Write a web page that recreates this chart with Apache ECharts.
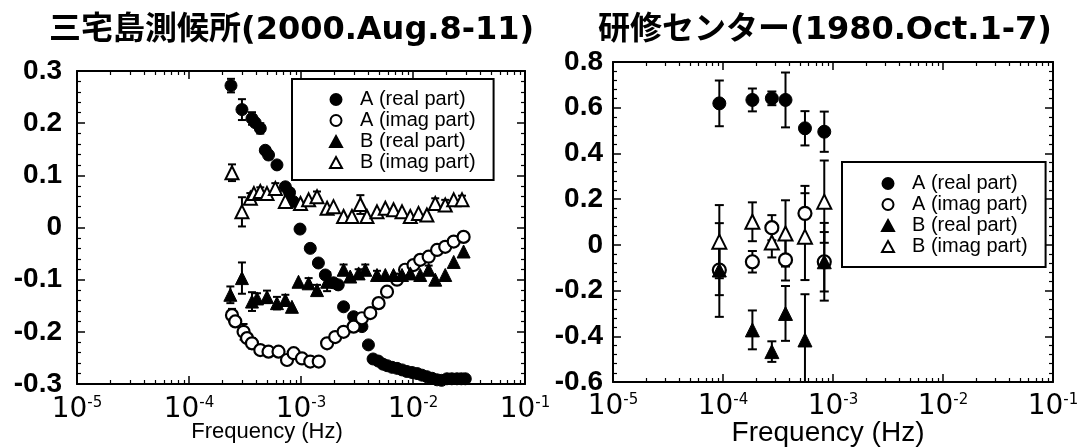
<!DOCTYPE html>
<html>
<head>
<meta charset="utf-8">
<script src="https://cdn.jsdelivr.net/npm/echarts@6/dist/echarts.min.js"></script>
<style>
html, body { margin: 0; padding: 0; background: #fff; }
#chart { width: 1084px; height: 447px; }
</style>
</head>
<body>
<div id="chart"></div>
<script>
// ---- left panel: 三宅島測候所 (2000.Aug.8-11), points are [frequency (Hz), value]
var miyakeAReal = [
    [2.37e-4, 0.272], [2.97e-4, 0.226], [3.65e-4, 0.209], [3.9e-4, 0.201], [4.33e-4, 0.19],
    [4.8e-4, 0.148], [5.13e-4, 0.139], [6.1e-4, 0.12], [7.25e-4, 0.078], [7.9e-4, 0.067],
    [8.5e-4, 0.05], [9.8e-4, -0.003], [1.21e-3, -0.04], [1.43e-3, -0.068], [1.65e-3, -0.091],
    [1.95e-3, -0.106], [2.15e-3, -0.11], [2.4e-3, -0.152], [2.95e-3, -0.171], [3.5e-3, -0.19],
    [4.0e-3, -0.225], [4.4e-3, -0.252], [4.9e-3, -0.256], [5.4e-3, -0.262], [5.9e-3, -0.265],
    [6.5e-3, -0.268], [7.2e-3, -0.27], [8.0e-3, -0.273], [8.8e-3, -0.276], [9.8e-3, -0.278],
    [1.09e-2, -0.28], [1.2e-2, -0.283], [1.33e-2, -0.286], [1.48e-2, -0.289], [1.64e-2, -0.292],
    [1.8e-2, -0.293], [2.01e-2, -0.29], [2.22e-2, -0.29], [2.47e-2, -0.29], [2.7e-2, -0.29],
    [2.93e-2, -0.29]
];
var miyakeAImag = [
    [2.42e-4, -0.168], [2.59e-4, -0.18], [3.07e-4, -0.2], [3.3e-4, -0.212], [3.65e-4, -0.222],
    [4.33e-4, -0.235], [5.13e-4, -0.238], [6.3e-4, -0.238], [7.5e-4, -0.254], [8.6e-4, -0.241],
    [1.02e-3, -0.251], [1.21e-3, -0.257], [1.44e-3, -0.257], [1.71e-3, -0.222], [2.02e-3, -0.21],
    [2.4e-3, -0.2], [2.95e-3, -0.19], [3.5e-3, -0.174], [4.16e-3, -0.164], [4.93e-3, -0.145],
    [5.86e-3, -0.123], [7.2e-3, -0.1], [8.5e-3, -0.081], [1.01e-2, -0.072], [1.16e-2, -0.062],
    [1.38e-2, -0.056], [1.64e-2, -0.043], [1.94e-2, -0.037], [2.31e-2, -0.027], [2.83e-2, -0.018]
];
var miyakeBReal = [
    [2.34e-4, -0.129], [2.97e-4, -0.097], [3.65e-4, -0.142], [4.05e-4, -0.136], [4.97e-4, -0.133],
    [6.1e-4, -0.145], [7.25e-4, -0.139], [8.3e-4, -0.152], [9.5e-4, -0.104], [1.17e-3, -0.107],
    [1.39e-3, -0.12], [1.71e-3, -0.104], [2.4e-3, -0.081], [2.75e-3, -0.094], [3.27e-3, -0.088],
    [3.75e-3, -0.081], [4.77e-3, -0.091], [5.66e-3, -0.091], [6.7e-3, -0.091], [7.98e-3, -0.091],
    [9.46e-3, -0.088], [1.16e-2, -0.091], [1.38e-2, -0.081], [1.58e-2, -0.1], [1.94e-2, -0.091],
    [2.31e-2, -0.066], [2.83e-2, -0.046]
];
var miyakeBImag = [
    [2.42e-4, 0.105], [2.97e-4, 0.03], [3.53e-4, 0.056], [3.8e-4, 0.065], [4.33e-4, 0.069],
    [4.97e-4, 0.065], [5.9e-4, 0.075], [7.25e-4, 0.05], [9.9e-4, 0.046], [1.17e-3, 0.053],
    [1.39e-3, 0.059], [1.71e-3, 0.037], [1.95e-3, 0.04], [2.4e-3, 0.021], [2.85e-3, 0.021],
    [3.39e-3, 0.044], [3.88e-3, 0.021], [4.77e-3, 0.03], [5.66e-3, 0.037], [6.7e-3, 0.034],
    [7.98e-3, 0.03], [9.46e-3, 0.021], [1.12e-2, 0.027], [1.33e-2, 0.024], [1.58e-2, 0.046],
    [1.94e-2, 0.043], [2.31e-2, 0.053], [2.74e-2, 0.053]
];
// error bars [frequency, value, half length]
var miyakeErr = [
    [2.37e-4, 0.272, 0.013], [2.97e-4, 0.226, 0.02], [3.65e-4, 0.209, 0.012], [4.33e-4, 0.19, 0.01],
    [5.13e-4, 0.139, 0.008],
    [2.42e-4, -0.168, 0.012], [3.07e-4, -0.2, 0.015], [3.65e-4, -0.222, 0.01],
    [2.34e-4, -0.129, 0.016], [2.97e-4, -0.097, 0.03], [3.65e-4, -0.142, 0.018], [4.05e-4, -0.136, 0.01],
    [4.97e-4, -0.133, 0.012], [6.1e-4, -0.145, 0.012], [7.25e-4, -0.139, 0.01], [1.17e-3, -0.107, 0.01],
    [1.39e-3, -0.12, 0.01], [1.71e-3, -0.104, 0.018], [2.4e-3, -0.081, 0.01], [3.27e-3, -0.088, 0.008],
    [3.75e-3, -0.081, 0.01], [4.77e-3, -0.091, 0.008], [1.38e-2, -0.081, 0.008],
    [2.42e-4, 0.105, 0.016], [2.97e-4, 0.03, 0.028], [3.53e-4, 0.056, 0.01], [4.33e-4, 0.069, 0.008],
    [5.9e-4, 0.075, 0.01], [1.39e-3, 0.059, 0.01], [3.39e-3, 0.044, 0.018], [1.58e-2, 0.046, 0.01],
    [1.94e-2, 0.043, 0.01], [2.74e-2, 0.053, 0.008]
];

// ---- right panel: 研修センター (1980.Oct.1-7)
var kenshuFreq = [9.26e-5, 1.85e-4, 2.78e-4, 3.7e-4, 5.56e-4, 8.33e-4];
var kenshuAReal = [0.619, 0.634, 0.641, 0.634, 0.51, 0.495];
var kenshuARealErr = [0.1, 0.05, 0.03, 0.12, 0.075, 0.088];
var kenshuAImag = [-0.11, -0.074, 0.075, -0.066, 0.138, -0.074];
var kenshuAImagErr = [0.11, 0.047, 0.055, 0.09, 0.12, 0.13];
var kenshuBReal = [-0.11, -0.372, -0.467, -0.3, -0.416, -0.074];
var kenshuBRealErr = [0.205, 0.085, 0.045, 0.12, 0.2, 0.17];
var kenshuBImag = [0.014, 0.101, 0.01, 0.05, 0.036, 0.189];
var kenshuBImagErr = [0.16, 0.085, 0.065, 0.145, 0.19, 0.18];

var seriesNames = ['A (real part)', 'A (imag part)', 'B (real part)', 'B (imag part)'];
var titles = ['三宅島測候所(2000.Aug.8-11)', '研修センター(1980.Oct.1-7)'];
var decades = [-5, -4, -3, -2];

// minor log ticks (2..9 per decade), in log10 space for the helper axes
var minorLogTicks = [];
decades.forEach(function (d) {
    for (var k = 2; k <= 9; k++) minorLogTicks.push(d + Math.log10(k));
});

var SANS = "'Liberation Sans', Arial, sans-serif";
var DEJA = "'DejaVu Sans', sans-serif";
var TITLE_FONT = "'DejaVu Sans', 'Noto Sans CJK JP', sans-serif";
var BLACK = '#000';

function pairs(freq, vals) {
    return freq.map(function (f, i) { return [f, vals[i]]; });
}
function errRows(rows) {
    return rows.map(function (r) { return [r[0], r[1] - r[2], r[1] + r[2]]; });
}
function errCols(freq, vals, errs) {
    return freq.map(function (f, i) { return [f, vals[i] - errs[i], vals[i] + errs[i]]; });
}

function xLog(grid, pos, labels, margin, name, nameSize, nameShift) {
    return {
        type: 'log', logBase: 10, gridIndex: grid, position: pos, min: 1e-5, max: 1e-1,
        axisLine: { show: true, onZero: false, lineStyle: { color: BLACK, width: 2 } },
        axisTick: { show: true, inside: true, length: 8, lineStyle: { color: BLACK, width: 1.5 } },
        axisLabel: {
            show: labels, margin: margin, showMinLabel: true, showMaxLabel: true,
            formatter: function (v) { return '{b|10}{s|' + Math.round(Math.log10(v)) + '}'; },
            rich: {
                b: { fontFamily: DEJA, fontSize: 28, lineHeight: 28, color: BLACK },
                s: { fontFamily: DEJA, fontSize: 15, lineHeight: 15, verticalAlign: 'top', color: BLACK }
            }
        },
        splitLine: { show: false },
        name: name || '', nameLocation: 'middle', nameGap: 37, nameMoveOverlap: false,
        nameTextStyle: { fontFamily: SANS, fontSize: nameSize || 20, color: BLACK, padding: [0, nameShift || 0, 0, 0] }
    };
}

function xMinor(grid, pos) {
    return {
        type: 'value', gridIndex: grid, position: pos, min: -5, max: -1,
        axisLine: { show: false, onZero: false },
        axisTick: { show: true, inside: true, length: 4, customValues: minorLogTicks, lineStyle: { color: BLACK, width: 1.2 } },
        axisLabel: { show: false },
        splitLine: { show: false }
    };
}

function yAx(grid, pos, min, max, step, labels, margin) {
    return {
        type: 'value', gridIndex: grid, position: pos, min: min, max: max, interval: step,
        axisLine: { show: true, onZero: false, lineStyle: { color: BLACK, width: 2 } },
        axisTick: { show: true, inside: true, length: 8, lineStyle: { color: BLACK, width: 1.5 } },
        minorTick: { show: true, splitNumber: 5, length: 4, lineStyle: { color: BLACK, width: 1.2 } },
        axisLabel: {
            show: labels, margin: margin, showMinLabel: true, showMaxLabel: true,
            fontFamily: SANS, fontWeight: 'bold', fontSize: 28, color: BLACK
        },
        splitLine: { show: false }, minorSplitLine: { show: false }
    };
}

var markerStyles = [
    { symbol: 'circle', itemStyle: { color: BLACK, borderColor: BLACK, borderWidth: 1, opacity: 1 } },
    { symbol: 'circle', itemStyle: { color: '#fff', borderColor: BLACK, borderWidth: 2.2, opacity: 1 } },
    { symbol: 'triangle', itemStyle: { color: BLACK, borderColor: BLACK, borderWidth: 1, opacity: 1 } },
    { symbol: 'triangle', itemStyle: { color: '#fff', borderColor: BLACK, borderWidth: 2, opacity: 1 } }
];

function scatter(idx, data, xi, yi, size) {
    var m = markerStyles[idx];
    return {
        type: 'scatter', name: seriesNames[idx], data: data, xAxisIndex: xi, yAxisIndex: yi,
        symbol: m.symbol, symbolSize: m.symbol === 'triangle' ? size + 1 : size,
        itemStyle: m.itemStyle, z: 3, emphasis: { disabled: true }
    };
}

function errorBars(data, xi, yi, cap) {
    return {
        type: 'custom', name: 'err' + xi, data: data, xAxisIndex: xi, yAxisIndex: yi, clip: true, z: 2,
        encode: { x: 0, y: [1, 2] }, silent: true,
        renderItem: function (params, api) {
            var lo = api.coord([api.value(0), api.value(1)]);
            var hi = api.coord([api.value(0), api.value(2)]);
            var st = { stroke: BLACK, lineWidth: 2 };
            return {
                type: 'group', children: [
                    { type: 'line', shape: { x1: lo[0], y1: lo[1], x2: hi[0], y2: hi[1] }, style: st },
                    { type: 'line', shape: { x1: lo[0] - cap, y1: lo[1], x2: lo[0] + cap, y2: lo[1] }, style: st },
                    { type: 'line', shape: { x1: hi[0] - cap, y1: hi[1], x2: hi[0] + cap, y2: hi[1] }, style: st }
                ]
            };
        }
    };
}

function legendBox(left, top, padding) {
    return {
        left: left, top: top, orient: 'vertical', padding: padding, itemGap: 0,
        itemWidth: 12, itemHeight: 11, selectedMode: false, symbolKeepAspect: true,
        borderColor: BLACK, borderWidth: 2, backgroundColor: '#fff',
        data: seriesNames,
        textStyle: { fontFamily: SANS, fontSize: 20, lineHeight: 21, color: BLACK, padding: [0, 0, 0, 13] }
    };
}

var chart = echarts.init(document.getElementById('chart'), null, { renderer: 'canvas' });

var option = {
    animation: false,
    backgroundColor: '#fff',
    title: [
        { text: titles[0], left: 49, top: 15, padding: 0, textStyle: { fontFamily: TITLE_FONT, fontWeight: 'bold', fontSize: 32, color: BLACK } },
        { text: titles[1], left: 598, top: 15, padding: 0, textStyle: { fontFamily: TITLE_FONT, fontWeight: 'bold', fontSize: 32, color: BLACK } }
    ],
    grid: [
        { left: 77, top: 71, width: 448, height: 313, containLabel: false, outerBoundsMode: 'none' },
        { left: 613, top: 62, width: 440, height: 320, containLabel: false, outerBoundsMode: 'none' }
    ],
    legend: [
        legendBox(292, 79, [10, 18, 7, 37]),
        legendBox(842, 162, [11, 18, 10, 39])
    ],
    xAxis: [
        xLog(0, 'bottom', true, 12, 'Frequency (Hz)', 22, 68),
        xLog(0, 'top', false, 8),
        xMinor(0, 'top'),
        xMinor(0, 'bottom'),
        xLog(1, 'bottom', true, 11, 'Frequency (Hz)', 28, 10),
        xLog(1, 'top', false, 8),
        xMinor(1, 'top'),
        xMinor(1, 'bottom')
    ],
    yAxis: [
        yAx(0, 'left', -0.3, 0.3, 0.1, true, 15),
        yAx(0, 'right', -0.3, 0.3, 0.1, false, 8),
        yAx(1, 'left', -0.6, 0.8, 0.2, true, 10),
        yAx(1, 'right', -0.6, 0.8, 0.2, false, 8)
    ],
    series: [
        errorBars(errRows(miyakeErr), 0, 0, 4),
        scatter(0, miyakeAReal, 0, 0, 12),
        scatter(1, miyakeAImag, 0, 0, 12),
        scatter(2, miyakeBReal, 0, 0, 12),
        scatter(3, miyakeBImag, 0, 0, 12),
        errorBars(errCols(kenshuFreq, kenshuAReal, kenshuARealErr)
            .concat(errCols(kenshuFreq, kenshuAImag, kenshuAImagErr))
            .concat(errCols(kenshuFreq, kenshuBReal, kenshuBRealErr))
            .concat(errCols(kenshuFreq, kenshuBImag, kenshuBImagErr)), 4, 2, 4.5),
        scatter(0, pairs(kenshuFreq, kenshuAReal), 4, 2, 13),
        scatter(1, pairs(kenshuFreq, kenshuAImag), 4, 2, 13),
        scatter(2, pairs(kenshuFreq, kenshuBReal), 4, 2, 13),
        scatter(3, pairs(kenshuFreq, kenshuBImag), 4, 2, 13)
    ]
};

chart.setOption(option);
window.addEventListener('resize', chart.resize);
</script>
</body>
</html>
